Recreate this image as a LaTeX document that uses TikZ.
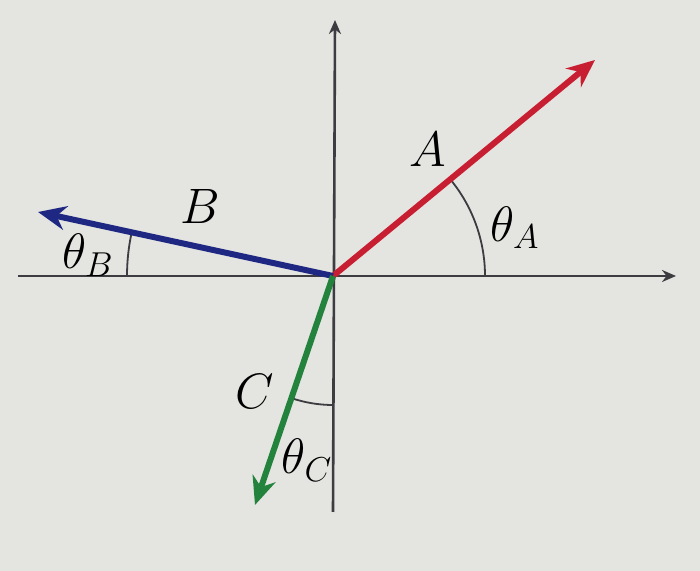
\documentclass[tikz,border=0pt]{standalone}
\usetikzlibrary{arrows.meta}
\definecolor{bg}{RGB}{228,228,225}
\definecolor{vecA}{RGB}{200,30,50}
\definecolor{vecB}{RGB}{30,40,130}
\definecolor{vecC}{RGB}{35,130,60}
\definecolor{axis}{RGB}{60,60,65}
\begin{document}
\begin{tikzpicture}[x=0.5pt,y=0.5pt,
  axisline/.style={draw=axis,line width=1.3pt,-{Stealth[length=7pt,width=6pt]}},
  vec/.style={line width=3pt,-{Stealth[length=14pt,width=12pt]}},
  anglearc/.style={draw=axis,line width=0.9pt},
  lbl/.style={font=\fontsize{24}{28}\selectfont, inner sep=0pt}]
\fill[bg] (0,0) rectangle (700,571);
\useasboundingbox (0,0) rectangle (700,571);
\coordinate (O) at (333,295);
\coordinate (xl) at (18,295);
\coordinate (xr) at (676,295);
\coordinate (yb) at (333,59);
\coordinate (yt) at (335,551);
\coordinate (tA) at (595,511);
\coordinate (tB) at (38,359);
\coordinate (tC) at (255,66);
\draw[axisline] (xl) -- (xr);
\draw[axisline] (yb) -- (yt);
\draw[anglearc] ([shift={(0:152)}]O) arc[start angle=0,end angle=39.5,radius=152];
\draw[anglearc] ([shift={(167.8:206)}]O) arc[start angle=167.8,end angle=180,radius=206];
\draw[anglearc] ([shift={(251.2:129)}]O) arc[start angle=251.2,end angle=270,radius=129];
\draw[vec,vecA] (O) -- (tA);
\draw[vec,vecB] (O) -- (tB);
\draw[vec,vecC] (O) -- (tC);
\node[lbl] (lA) at (428,421) {$A$};
\node[lbl] (lthA) at (515,343) {$\theta_A$};
\node[lbl] (lB) at (200,364) {$B$};
\node[lbl] (lthB) at (88,316) {$\theta_B$};
\node[lbl] (lC) at (255,179) {$C$};
\node[lbl] (lthC) at (307,111) {$\theta_C$};
\end{tikzpicture}
\end{document}
